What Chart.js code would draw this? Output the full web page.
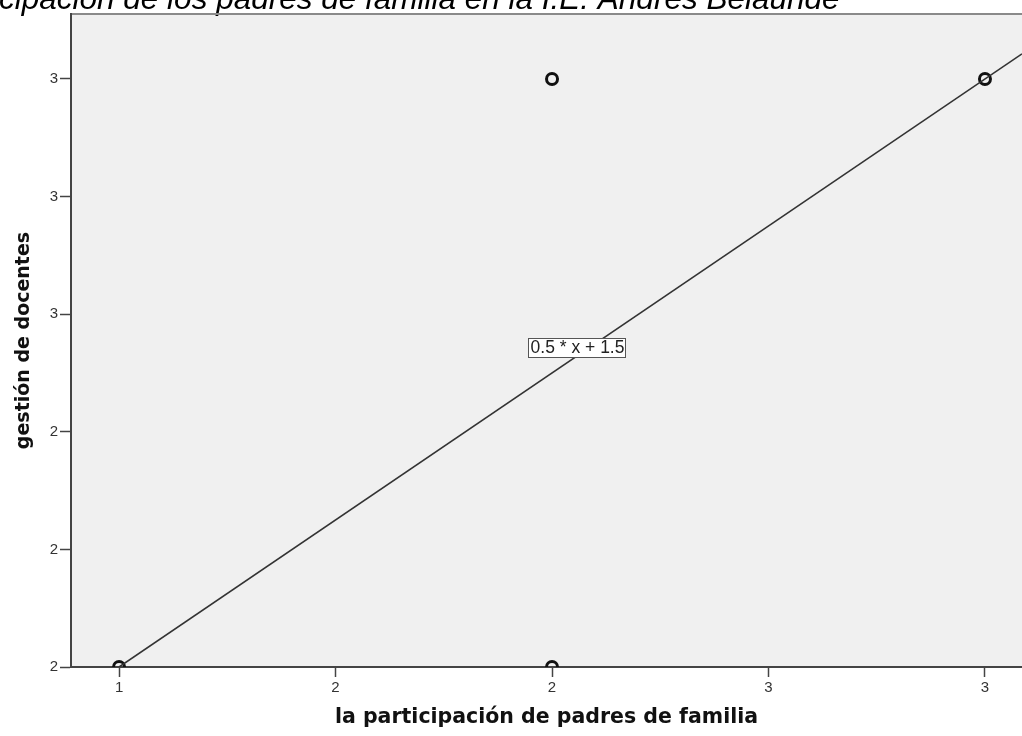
<!DOCTYPE html>
<html>
<head>
<meta charset="utf-8">
<script src="https://cdn.jsdelivr.net/npm/chart.js@4"></script>
<style>
  html, body { margin:0; padding:0; background:#fff; overflow:hidden; }
  canvas { display:block; }
</style>
</head>
<body>
<canvas id="chart" width="1022" height="736"></canvas>
<script>
// data
const xValues = [1, 2, 2, 3];
const yValues = [2, 2, 3, 3];
const xTicks = [1, 1.5, 2, 2.5, 3];
const xTickLabels = ['1', '2', '2', '3', '3'];
const yTicks = [2, 2.2, 2.4, 2.6, 2.8, 3];
const yTickLabels = ['2', '2', '2', '3', '3', '3'];
const fitSlope = 0.5;
const fitIntercept = 1.5;
const fitLabel = '0.5 * x + 1.5';
const titleText = 'cipación de los padres de familia en la I.E. Andrés Belaúnde';
const xTitle = 'la participación de padres de familia';
const yTitle = 'gestión de docentes';

const xMin = 0.889, xMax = 3.0855;
const yMin = 2, yMax = 3.1105;

const points = xValues.map((x, i) => ({ x, y: yValues[i] }));
const fitLine = [xTicks[0], xMax].map(x => ({ x, y: fitSlope * x + fitIntercept }));

const frame = {
  id: 'frame',
  beforeDraw(chart) {
    const { ctx, chartArea: a } = chart;
    ctx.save();
    ctx.fillStyle = '#f0f0f0';
    ctx.fillRect(a.left, a.top, a.right - a.left, a.bottom - a.top);
    // cut-off title at the very top
    ctx.fillStyle = '#000';
    ctx.font = 'italic 31.5px "Liberation Sans", Arial, sans-serif';
    ctx.textBaseline = 'alphabetic';
    ctx.textAlign = 'left';
    ctx.fillText(titleText, -1, 9);
    ctx.strokeStyle = '#8a8a8a';
    ctx.lineWidth = 2;
    ctx.beginPath();
    ctx.moveTo(a.left, a.top);
    ctx.lineTo(a.right, a.top);
    ctx.stroke();
    ctx.restore();
  },
  afterDatasetsDraw(chart) {
    const { ctx, scales } = chart;
    const cx = scales.x.getPixelForValue(2.0566);
    const cy = scales.y.getPixelForValue(2.5434);
    ctx.save();
    ctx.font = '17.5px "Liberation Sans", Arial, sans-serif';
    const w = Math.round(ctx.measureText(fitLabel).width + 3);
    const h = 19;
    const bx = Math.round(cx - w / 2), by = Math.round(cy - h / 2);
    ctx.fillStyle = '#fff';
    ctx.fillRect(bx, by, w, h);
    ctx.strokeStyle = '#555';
    ctx.lineWidth = 1;
    ctx.strokeRect(bx + 0.5, by + 0.5, w, h);
    ctx.fillStyle = '#222';
    ctx.textAlign = 'center';
    ctx.textBaseline = 'middle';
    ctx.fillText(fitLabel, cx + 1, cy + 1);
    ctx.restore();
  }
};

const tickFont = { family: '"Liberation Sans", Arial, sans-serif', size: 15 };

new Chart(document.getElementById('chart'), {
  type: 'scatter',
  data: {
    datasets: [
      {
        type: 'line',
        data: fitLine,
        borderColor: '#333',
        borderWidth: 1.6,
        pointRadius: 0,
        fill: false,
        clip: 0
      },
      {
        data: points,
        pointRadius: 5.5,
        pointBorderWidth: 3,
        borderColor: '#111',
        backgroundColor: 'rgba(0,0,0,0)',
        clip: 0
      }
    ]
  },
  options: {
    responsive: false,
    animation: false,
    devicePixelRatio: 1,
    layout: { autoPadding: false, padding: { top: 14, left: 0, right: 0, bottom: 0 } },
    plugins: { legend: { display: false }, tooltip: { enabled: false } },
    scales: {
      x: {
        type: 'linear',
        min: xMin, max: xMax,
        afterBuildTicks: s => { s.ticks = xTicks.map(v => ({ value: v })); },
        afterFit: s => { s.height = 69; s.paddingLeft = 0; s.paddingRight = 0; },
        ticks: { callback: (v, i) => xTickLabels[i], color: '#333', font: tickFont, padding: 2, maxRotation: 0 },
        grid: { drawOnChartArea: false, drawTicks: true, tickLength: 10, tickColor: '#444', tickWidth: 1.5 },
        border: { display: true, color: '#444', width: 2 },
        title: { display: true, text: xTitle, color: '#111',
          font: { family: '"DejaVu Sans", sans-serif', size: 20.5, weight: 'bold' },
          padding: { top: 0, bottom: 6 } }
      },
      y: {
        type: 'linear',
        min: yMin, max: yMax,
        afterBuildTicks: s => { s.ticks = yTicks.map(v => ({ value: v })); },
        afterFit: s => { s.width = 71; s.paddingTop = 0; s.paddingBottom = 0; },
        ticks: { callback: (v, i) => yTickLabels[i], color: '#333', font: tickFont, padding: 2 },
        grid: { drawOnChartArea: false, drawTicks: true, tickLength: 11, tickColor: '#444', tickWidth: 1.5 },
        border: { display: true, color: '#444', width: 2 },
        title: { display: true, text: yTitle, color: '#111',
          font: { family: '"DejaVu Sans", sans-serif', size: 19, weight: 'bold' },
          padding: { top: 13, bottom: 0 } }
      }
    }
  },
  plugins: [frame]
});
</script>
</body>
</html>
